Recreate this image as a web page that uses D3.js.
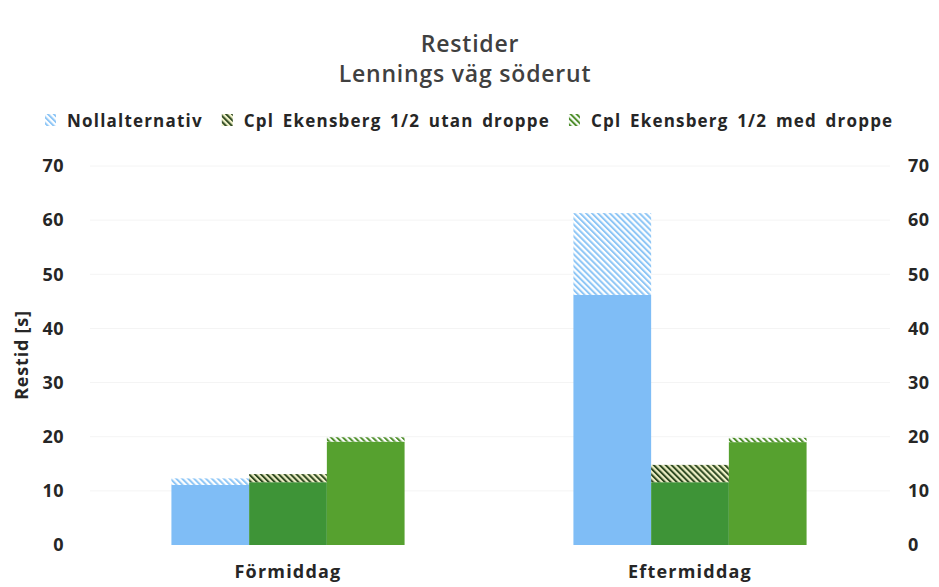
<!DOCTYPE html>
<html>
<head>
<meta charset="utf-8">
<script src="https://cdn.jsdelivr.net/npm/d3@7"></script>
<style>
  html, body { margin: 0; padding: 0; background: #fff; }
  svg { display: block; }
  text { font-family: "Open Sans", Lato, sans-serif; fill: #262626; }
</style>
</head>
<body>
<svg id="chart" width="939" height="587"></svg>
<script>
// Travel times (seconds) per period of day
const categories = ["Förmiddag", "Eftermiddag"];
const seriesNames = ["Nollalternativ", "Cpl Ekensberg 1/2 utan droppe", "Cpl Ekensberg 1/2 med droppe"];

// Solid part of each bar
const nollBase = [11.1, 46.2];
const utanBase = [11.6, 11.6];
const medBase = [19.1, 19.0];

// Total including the hatched upper part
const nollTotal = [12.3, 61.3];
const utanTotal = [13.1, 14.8];
const medTotal = [19.9, 19.8];

const yTicks = [0, 10, 20, 30, 40, 50, 60, 70];

const solidColors = ["#7fbdf6", "#3e9437", "#56a12f"];
const hatchStripe = ["#8ec6f6", "#2f4a22", "#4f8f2c"];
const hatchBack = ["#ffffff", "#eef0c6", "#ffffff"];

const bases = [nollBase, utanBase, medBase];
const totals = [nollTotal, utanTotal, medTotal];

const svg = d3.select("#chart");

// Hatch patterns, "\" direction
const defs = svg.append("defs");
seriesNames.forEach((name, i) => {
  const p = defs.append("pattern")
    .attr("id", "hatch" + i)
    .attr("patternUnits", "userSpaceOnUse")
    .attr("width", 4.2).attr("height", 4.2)
    .attr("patternTransform", "rotate(-45)");
  p.append("rect").attr("width", 4.2).attr("height", 4.2).attr("fill", hatchBack[i]);
  p.append("rect").attr("width", 2).attr("height", 4.2).attr("fill", hatchStripe[i]);
});

const y = d3.scaleLinear().domain([0, 70]).range([545, 166]);
const x0 = d3.scaleBand().domain(categories).range([87, 891])
  .paddingInner(0.42).paddingOuter(0.21);
const x1 = d3.scaleBand().domain(d3.range(seriesNames.length))
  .range([0, x0.bandwidth()]).padding(0);

// Faint horizontal gridlines
svg.append("g")
  .selectAll("line").data(yTicks.filter(d => d > 0)).join("line")
  .attr("x1", 90).attr("x2", 890)
  .attr("y1", d => y(d)).attr("y2", d => y(d))
  .attr("stroke", "#f4f4f4").attr("stroke-width", 1);

// Left and right value axes (labels only)
const leftAxis = svg.append("g").attr("transform", "translate(64,0)")
  .call(d3.axisLeft(y).tickValues(yTicks).tickSize(0).tickPadding(0));
const rightAxis = svg.append("g").attr("transform", "translate(908,0)")
  .call(d3.axisRight(y).tickValues(yTicks).tickSize(0).tickPadding(0));
[leftAxis, rightAxis].forEach(a => {
  a.select(".domain").remove();
  a.selectAll("text")
    .attr("font-family", "'Open Sans', sans-serif")
    .attr("font-size", 18).attr("font-weight", 700).attr("fill", "#262626")
    .attr("letter-spacing", 0.5);
});

// Bars
const groups = svg.append("g").selectAll("g").data(categories).join("g")
  .attr("transform", d => `translate(${x0(d)},0)`);

groups.each(function(cat, ci) {
  const g = d3.select(this);
  seriesNames.forEach((s, si) => {
    const b = bases[si][ci], t = totals[si][ci];
    g.append("rect")
      .attr("x", x1(si)).attr("width", x1.bandwidth())
      .attr("y", y(b)).attr("height", y(0) - y(b))
      .attr("fill", solidColors[si]);
    g.append("rect")
      .attr("x", x1(si)).attr("width", x1.bandwidth())
      .attr("y", y(t)).attr("height", y(b) - y(t))
      .attr("fill", `url(#hatch${si})`);
  });
});

// Category labels
const xAxis = svg.append("g").attr("transform", "translate(0,563)")
  .call(d3.axisBottom(x0).tickSize(0).tickPadding(0));
xAxis.select(".domain").remove();
xAxis.selectAll("text")
  .attr("dy", "0.85em")
  .attr("font-family", "'Open Sans', sans-serif")
  .attr("font-size", 18).attr("font-weight", 700).attr("fill", "#262626")
  .attr("letter-spacing", 1.2);

// Y axis title
svg.append("text")
  .attr("transform", "translate(28,355) rotate(-90)")
  .attr("text-anchor", "middle")
  .attr("font-size", 18).attr("font-weight", 700)
  .attr("letter-spacing", 0.8)
  .text("Restid [s]");

// Title
svg.append("text").attr("x", 470).attr("y", 52)
  .attr("text-anchor", "middle").attr("font-size", 23).attr("font-weight", 600)
  .attr("letter-spacing", 0.8)
  .style("fill", "#404040")
  .text("Restider");
svg.append("text").attr("x", 465).attr("y", 82)
  .attr("text-anchor", "middle").attr("font-size", 23).attr("font-weight", 600)
  .attr("letter-spacing", 0.8)
  .style("fill", "#404040")
  .text("Lennings väg söderut");

// Legend
const legend = svg.append("g").attr("transform", "translate(0,121)");
let lx = 45;
seriesNames.forEach((name, i) => {
  legend.append("rect")
    .attr("x", lx).attr("y", -7).attr("width", 11).attr("height", 12)
    .attr("fill", `url(#hatch${i})`);
  const t = legend.append("text")
    .attr("x", lx + 22).attr("y", 0).attr("dy", "0.35em")
    .attr("font-size", 17).attr("font-weight", 700)
    .attr("letter-spacing", 1.2).attr("word-spacing", 3)
    .text(name);
  lx += 22 + t.node().getComputedTextLength() + 19;
});
</script>
</body>
</html>
